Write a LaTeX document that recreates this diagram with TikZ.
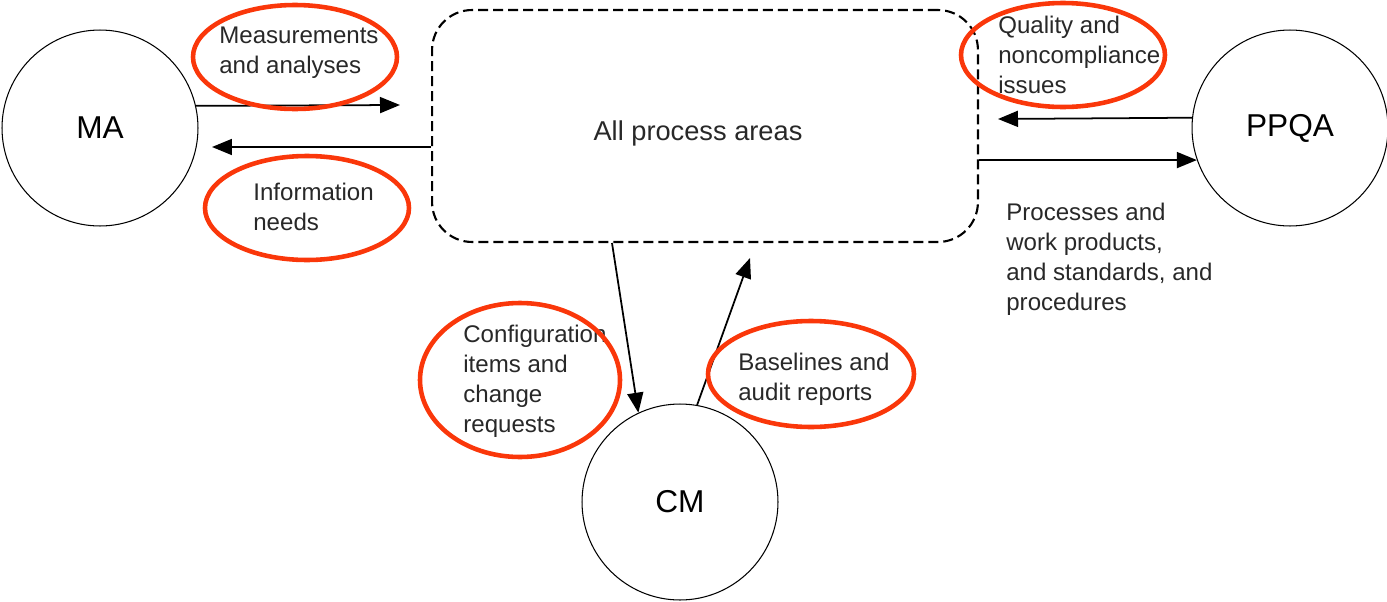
\documentclass[tikz,border=0pt]{standalone}
\usepackage{fontspec}
\setmainfont{Liberation Sans}
\usetikzlibrary{arrows.meta}
\definecolor{ringred}{RGB}{250,55,10}
\definecolor{inkgrey}{RGB}{40,40,40}

\begin{document}
\begin{tikzpicture}[x=0.02cm,y=-0.02cm,
  area/.style={draw,circle,line width=0.6pt,minimum size=3.92cm,inner sep=0pt,font=\fontsize{18}{22}\selectfont},
  flow/.style={line width=1pt,-{Triangle[length=0.4cm,width=0.32cm]}},
  lbl/.style={anchor=west,align=left,inner sep=0pt,text=inkgrey,font=\fontsize{13.7}{17}\selectfont},
  redring/.style={draw=ringred,line width=2.6pt}]
\useasboundingbox (0,0) rectangle (1387,602);
% the three circles and the dashed box
\node[area] (ma) at (100,128) {MA};
\node[area] (ppqa) at (1290,128) {PPQA};
\node[area] (cm) at (680,502) {CM};
\node[draw,dash pattern=on 0.2cm off 0.1cm,line width=1.2pt,rounded corners=0.8cm,
  minimum width=10.92cm,minimum height=4.64cm] (box) at (705,126) {};
\node[text=inkgrey,font=\fontsize{15.5}{19}\selectfont] (areas) at (698,133) {All process areas};
% free ends of the arrows
\coordinate (ma-out) at (400,105);
\coordinate (ma-in) at (212,147);
\coordinate (ppqa-in) at (998,119);
\coordinate (ppqa-out) at (0,160);
\coordinate (cm-out) at (612,0);
\coordinate (cm-in) at (750,258);
% arrows
\draw[flow] (ma.13.6) -- (ma-out);
\draw[flow] (box.west |- ma-in) -- (ma-in);
\draw[flow] (ppqa.174.7) -- (ppqa-in);
\draw[flow] (box.east |- ppqa-out) -- (ppqa.199.1);
\draw[flow] (box.south -| cm-out) -- (cm.115);
\draw[flow] (cm.80) -- (cm-in);
% labels
\node[lbl] (meas) at (219,53) {Measurements\\and analyses};
\node[lbl] (info) at (253,207) {Information\\needs};
\node[lbl] (qual) at (998,55) {Quality and\\noncompliance\\issues};
\node[lbl] (proc) at (1006,259) {Processes and\\work products,\\and standards, and\\procedures};
\node[lbl] (conf) at (463,381) {Configuration\\items and\\change\\requests};
\node[lbl] (base) at (738,379) {Baselines and\\audit reports};
% red rings
\draw[redring] (295,57) ellipse (102 and 52);
\draw[redring] (307,208) ellipse (102 and 52);
\draw[redring] (1063,55) ellipse (102 and 52);
\draw[redring] (520,380) ellipse (100 and 77);
\draw[redring] (811,374) ellipse (103 and 53);
\end{tikzpicture}
\end{document}
